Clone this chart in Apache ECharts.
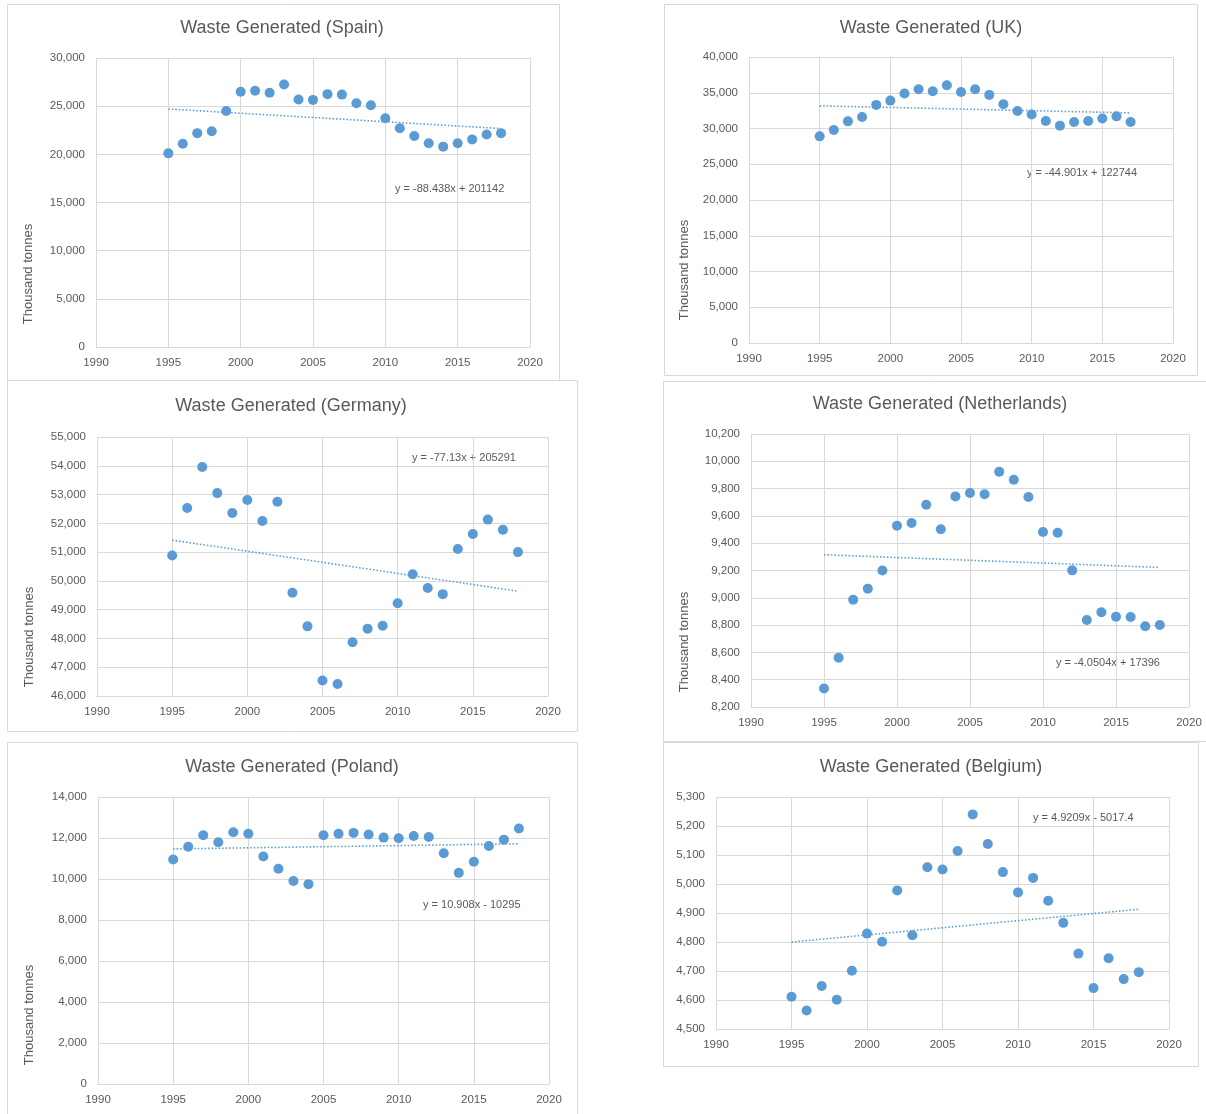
<!DOCTYPE html>
<html><head><meta charset="utf-8">
<script src="https://cdn.jsdelivr.net/npm/echarts@6/dist/echarts.min.js"></script>
<style>html,body{margin:0;padding:0;background:#fff}#c{width:1206px;height:1114px}</style>
</head><body><div id="c"></div><script>
// ---- data ----
const years = [1995,1996,1997,1998,1999,2000,2001,2002,2003,2004,2005,2006,2007,2008,2009,2010,2011,2012,2013,2014,2015,2016,2017,2018];
const yearsUK = [1995,1996,1997,1998,1999,2000,2001,2002,2003,2004,2005,2006,2007,2008,2009,2010,2011,2012,2013,2014,2015,2016,2017];
const xTicks = [1990, 2020, 5];

const spainValues = [20100,21100,22200,22400,24500,26500,26600,26400,27250,25700,25650,26250,26200,25300,25100,23750,22700,21900,21150,20800,21150,21550,22050,22200];
const ukValues = [28900,29800,31000,31600,33300,33900,34900,35500,35200,36050,35100,35500,34700,33400,32450,31950,31050,30400,30900,31050,31400,31700,30900];
const germanyValues = [50880,52530,53960,53050,52360,52810,52080,52750,49590,48420,46540,46420,47870,48340,48440,49220,50230,49750,49540,51110,51630,52130,51780,51000];
const netherlandsValues = [8335,8561,8986,9067,9200,9528,9548,9682,9502,9743,9768,9758,9924,9865,9738,9482,9477,9201,8837,8894,8862,8859,8791,8801];
const polandValues = [10950,11570,12130,11790,12280,12210,11100,10500,9900,9750,12130,12210,12250,12170,12020,11990,12100,12050,11260,10300,10840,11610,11920,12460];
const belgiumValues = [4611,4564,4648,4601,4701,4829,4801,4978,4823,5058,5050,5114,5240,5138,5041,4971,5021,4942,4866,4760,4641,4744,4672,4696];

// trendline coefficients [slope, intercept] as printed in the charts
const spainTrend = [-88.438, 201142];
const ukTrend = [-44.901, 122744];
const germanyTrend = [-77.13, 205291];
const netherlandsTrend = [-4.0504, 17396];
const polandTrend = [10.908, -10295];
const belgiumTrend = [4.9209, -5017.4];

const spainEq = 'y = -88.438x + 201142';
const ukEq = 'y = -44.901x + 122744';
const germanyEq = 'y = -77.13x + 205291';
const netherlandsEq = 'y = -4.0504x + 17396';
const polandEq = 'y = 10.908x - 10295';
const belgiumEq = 'y = 4.9209x - 5017.4';

// y axis [min, max, interval]
const spainY = [0, 30000, 5000];
const ukY = [0, 40000, 5000];
const germanyY = [46000, 55000, 1000];
const netherlandsY = [8200, 10200, 200];
const polandY = [0, 14000, 2000];
const belgiumY = [4500, 5300, 100];

const titles = ['Waste Generated (Spain)','Waste Generated (UK)','Waste Generated (Germany)','Waste Generated (Netherlands)','Waste Generated (Poland)','Waste Generated (Belgium)'];
const yTitle = 'Thousand tonnes';

const panels = [
  {x: years, v: spainValues, t: spainTrend, eq: spainEq, y: spainY, ytitle: true},
  {x: yearsUK, v: ukValues, t: ukTrend, eq: ukEq, y: ukY, ytitle: true},
  {x: years, v: germanyValues, t: germanyTrend, eq: germanyEq, y: germanyY, ytitle: true},
  {x: years, v: netherlandsValues, t: netherlandsTrend, eq: netherlandsEq, y: netherlandsY, ytitle: true},
  {x: years, v: polandValues, t: polandTrend, eq: polandEq, y: polandY, ytitle: true},
  {x: years, v: belgiumValues, t: belgiumTrend, eq: belgiumEq, y: belgiumY, ytitle: false}
];

// ---- layout ----
const layout = [
  {grid:{left:96,top:58,width:434,height:289}, box:[7,4,552,376], title:[282,28], yt:[28,274], eq:[395,189]},
  {grid:{left:749,top:57,width:424,height:286}, box:[664,4,533,371], title:[931,28], yt:[684,270], eq:[1027,173]},
  {grid:{left:97,top:437,width:451,height:259}, box:[7,380,570,351], title:[291,406], yt:[29,637], eq:[412,458]},
  {grid:{left:751,top:434,width:438,height:273}, box:[663,381,560,360], title:[940,404], yt:[684,642], eq:[1056,663]},
  {grid:{left:98,top:797,width:451,height:287}, box:[7,742,570,400], title:[292,767], yt:[29,1015], eq:[423,905]},
  {grid:{left:716,top:797,width:453,height:232}, box:[663,742,535,324], title:[931,767], yt:null, eq:[1033,818]}
];

const FONT = 'Liberation Sans';
const TXT = '#595959';
const BLUE = '#5b9bd5';
const GRID = '#d9d9d9';

const grids = [], xAxes = [], yAxes = [], series = [], graphics = [];
panels.forEach((p, i) => {
  const L = layout[i];
  grids.push(Object.assign({containLabel:false}, L.grid));
  xAxes.push({
    type:'value', gridIndex:i, min:xTicks[0], max:xTicks[1], interval:xTicks[2],
    axisLine:{show:true, lineStyle:{color:GRID, width:1}},
    axisTick:{show:false},
    splitLine:{show:true, lineStyle:{color:GRID, width:1}},
    axisLabel:{color:TXT, fontFamily:FONT, fontSize:11.5, margin:10, formatter:v=>String(v)}
  });
  yAxes.push({
    type:'value', gridIndex:i, min:p.y[0], max:p.y[1], interval:p.y[2],
    axisLine:{show:false}, axisTick:{show:false},
    splitLine:{show:true, lineStyle:{color:GRID, width:1}},
    axisLabel:{color:TXT, fontFamily:FONT, fontSize:11.5, margin:11, formatter:v=>v.toLocaleString('en-US')}
  });
  series.push({
    type:'scatter', xAxisIndex:i, yAxisIndex:i, symbolSize:10,
    itemStyle:{color:BLUE, opacity:1}, z:3,
    data:p.x.map((yr,k)=>[yr, p.v[k]])
  });
  const x0 = p.x[0], x1 = p.x[p.x.length-1];
  series.push({
    type:'line', xAxisIndex:i, yAxisIndex:i, symbol:'none', silent:true, z:2,
    lineStyle:{color:BLUE, width:1.6, type:[1.5,2]},
    data:[[x0, p.t[0]*x0+p.t[1]],[x1, p.t[0]*x1+p.t[1]]]
  });
  graphics.push({type:'rect', shape:{x:L.box[0]+0.5, y:L.box[1]+0.5, width:L.box[2], height:L.box[3]}, style:{fill:null, stroke:GRID, lineWidth:1}, z:-1});
  graphics.push({type:'text', x:L.title[0], y:L.title[1], style:{text:titles[i], fill:TXT, font:'18px "'+FONT+'"', textAlign:'center', textVerticalAlign:'middle'}});
  if (p.ytitle && L.yt) {
    graphics.push({type:'text', x:L.yt[0], y:L.yt[1], rotation:Math.PI/2, style:{text:yTitle, fill:TXT, font:'13px "'+FONT+'"', textAlign:'center', textVerticalAlign:'middle'}});
  }
  graphics.push({type:'text', x:L.eq[0], y:L.eq[1], style:{text:p.eq, fill:TXT, font:'11px "'+FONT+'"', textAlign:'left', textVerticalAlign:'middle'}});
});

const chart = echarts.init(document.getElementById('c'), null, {renderer:'canvas'});
chart.setOption({
  animation:false,
  backgroundColor:'#fff',
  grid:grids, xAxis:xAxes, yAxis:yAxes, series:series,
  graphic:{elements:graphics}
});
</script></body></html>
